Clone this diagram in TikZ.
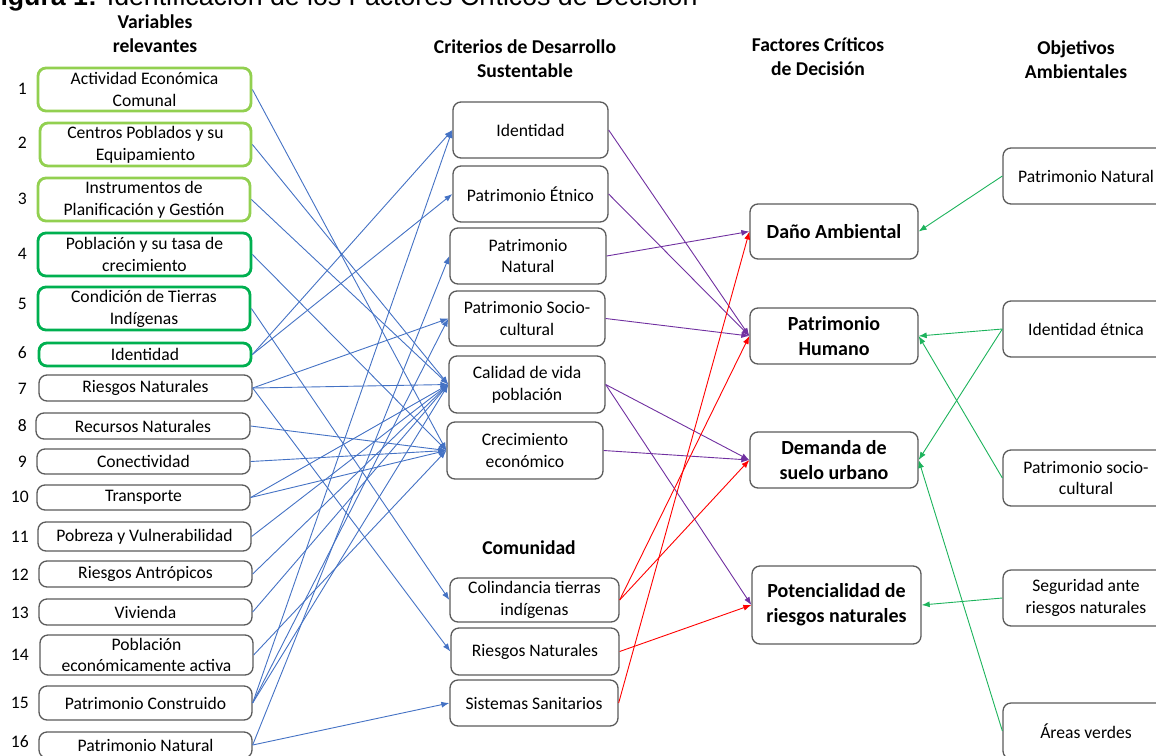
\documentclass[tikz,border=0pt]{standalone}
\usepackage{fontspec}
\setmainfont{Carlito}
\newfontfamily\titlefont{Liberation Sans}
\usetikzlibrary{arrows.meta}
\definecolor{boxgray}{HTML}{5A5A5A}
\definecolor{lgreen}{HTML}{92D050}
\definecolor{dgreen}{HTML}{00B050}
\definecolor{lblue}{HTML}{4472C4}
\definecolor{lpurple}{HTML}{7030A0}
\definecolor{lred}{HTML}{FF0000}
\definecolor{lgrn}{HTML}{1DB35C}
\tikzset{
  bx/.style={draw=boxgray, line width=1.3pt, rounded corners=8pt, align=center,
    inner sep=1pt, text=black, font=\fontsize{17.6}{21.8}\selectfont},
  lg/.style={bx, draw=lgreen, line width=2.8pt},
  dg/.style={bx, draw=dgreen, line width=2.8pt},
  fbx/.style={bx, font=\bfseries\fontsize{20}{25}\selectfont},
  hdr/.style={align=center, inner sep=0pt, font=\bfseries\fontsize{19.6}{24}\selectfont},
  num/.style={anchor=east, inner sep=0pt, font=\fontsize{17.6}{21}\selectfont},
  tip/.style={-{Latex[length=8pt,width=6pt]}},
  bl/.style={tip, draw=lblue, line width=0.9pt},
  pu/.style={tip, draw=lpurple, line width=0.9pt},
  rd/.style={tip, draw=lred, line width=0.9pt},
  gn/.style={tip, draw=lgrn, line width=0.9pt}
}
\begin{document}
\begin{tikzpicture}[x=1pt,y=-1pt]
\useasboundingbox (0,0) rectangle (1156,755);

% title (cut by the top edge, as in the reference)
\node[anchor=base west, inner sep=0pt, font=\titlefont\fontsize{26.7}{30}\selectfont] (title) at (-16,5.5)
  {\textbf{Figura 1:} Identificación de los Factores Críticos de Decisión};

% headers
\node[hdr] (h1) at (155,33.5) {Variables\\relevantes};
\node[hdr] (h2) at (525,59) {Criterios de Desarrollo\\Sustentable};
\node[hdr] (h3) at (818,56.5) {Factores Críticos\\de Decisión};
\node[hdr] (h4) at (1076,59.5) {Objetivos\\Ambientales};
\node[hdr] (h5) at (529,548) {Comunidad};

% numbers
\node[num] (n1) at (27,89) {1};
\node[num] (n2) at (27,143) {2};
\node[num] (n3) at (27,199) {3};
\node[num] (n4) at (27,254) {4};
\node[num] (n5) at (27,304) {5};
\node[num] (n6) at (27,353) {6};
\node[num] (n7) at (27,389) {7};
\node[num] (n8) at (27,426) {8};
\node[num] (n9) at (27,462) {9};
\node[num] (n10) at (29,497) {10};
\node[num] (n11) at (29,537) {11};
\node[num] (n12) at (29,575) {12};
\node[num] (n13) at (29,613) {13};
\node[num] (n14) at (29,655) {14};
\node[num] (n15) at (29,703) {15};
\node[num] (n16) at (29,742) {16};

% variables
\node[lg, minimum width=213pt, minimum height=43pt] (v1) at (144.5,89.5) {Actividad Económica\\Comunal};
\node[lg, minimum width=211pt, minimum height=43pt] (v2) at (145.5,144.5) {Centros Poblados y su\\Equipamiento};
\node[lg, minimum width=212pt, minimum height=43pt] (v3) at (144,199.5) {Instrumentos de\\Planificación y Gestión};
\node[dg, minimum width=213pt, minimum height=43pt] (v4) at (144.5,254.5) {Población y su tasa de\\crecimiento};
\node[dg, minimum width=212pt, minimum height=43pt] (v5) at (144,308.5) {Condición de Tierras\\Indígenas};
\node[dg, minimum width=212pt, minimum height=23pt] (v6) at (145,354.5) {Identidad};
\node[bx, minimum width=213pt, minimum height=26pt] (v7) at (145.5,388) {Riesgos Naturales};
\node[bx, minimum width=214pt, minimum height=26pt] (v8) at (143,426) {Recursos Naturales};
\node[bx, minimum width=213pt, minimum height=25pt] (v9) at (143.5,461.5) {Conectividad};
\node[bx, minimum width=213pt, minimum height=25pt] (v10) at (143.5,497.5) {Transporte};
\node[bx, minimum width=213pt, minimum height=29pt] (v11) at (144.5,536.5) {Pobreza y Vulnerabilidad};
\node[bx, minimum width=213pt, minimum height=26pt] (v12) at (145.5,574) {Riesgos Antrópicos};
\node[bx, minimum width=213pt, minimum height=26pt] (v13) at (145.5,612) {Vivienda};
\node[bx, minimum width=213pt, minimum height=40pt] (v14) at (146.5,655) {Población\\económicamente activa};
\node[bx, minimum width=213pt, minimum height=34pt] (v15) at (145.5,703) {Patrimonio Construido};
\node[bx, minimum width=213pt, minimum height=26pt] (v16) at (145.5,745) {Patrimonio Natural};

% criterios
\node[bx, minimum width=155pt, minimum height=56pt] (c1) at (530.5,130) {Identidad};
\node[bx, minimum width=155pt, minimum height=56pt] (c2) at (530.5,194) {Patrimonio Étnico};
\node[bx, minimum width=156pt, minimum height=56pt] (c3) at (528,256) {Patrimonio\\Natural};
\node[bx, minimum width=156pt, minimum height=55pt] (c4) at (527,318.5) {Patrimonio Socio-\\cultural};
\node[bx, minimum width=156pt, minimum height=57pt] (c5) at (527,384.5) {Calidad de vida\\población};
\node[bx, minimum width=156pt, minimum height=57pt] (c6) at (525,450.5) {Crecimiento\\económico};

% comunidad
\node[bx, minimum width=169pt, minimum height=44pt] (m1) at (534.5,600) {Colindancia tierras\\indígenas};
\node[bx, minimum width=168pt, minimum height=47pt] (m2) at (535,651.5) {Riesgos Naturales};
\node[bx, minimum width=168pt, minimum height=46pt] (m3) at (534,703) {Sistemas Sanitarios};

% factores
\node[fbx, minimum width=168pt, minimum height=55pt] (f1) at (834,231.5) {Daño Ambiental};
\node[fbx, minimum width=168pt, minimum height=56pt] (f2) at (834,336) {Patrimonio\\Humano};
\node[fbx, minimum width=168pt, minimum height=56pt] (f3) at (834,460) {Demanda de\\suelo urbano};
\node[fbx, minimum width=169pt, minimum height=78pt] (f4) at (836.5,605) {Potencialidad de\\riesgos naturales};

% objetivos
\node[bx, minimum width=166pt, minimum height=56pt] (o1) at (1086,176) {Patrimonio Natural};
\node[bx, minimum width=166pt, minimum height=56pt] (o2) at (1086,329) {Identidad étnica};
\node[bx, minimum width=166pt, minimum height=56pt] (o3) at (1086,478) {Patrimonio socio-\\cultural};
\node[bx, minimum width=166pt, minimum height=56pt] (o4) at (1086,598) {Seguridad ante\\riesgos naturales};
\node[bx, minimum width=166pt, minimum height=56pt] (o5) at (1086,731) {Áreas verdes};

% blue connectors
\draw[bl] (v1.east) -- (c6.west);
\draw[bl] (v2.east) -- (c5.west);
\draw[bl] (v3.east) -- (c5.west);
\draw[bl] (v4.east) -- (c6.west);
\draw[bl] (v5.east) -- (m1.west);
\draw[bl] (v6.east) -- (c1.west);
\draw[bl] (v6.east) -- (c2.west);
\draw[bl] (v7.east) -- (c4.west);
\draw[bl] (v7.east) -- (c5.west);
\draw[bl] (v7.east) -- (m2.west);
\draw[bl] (v8.east) -- (c6.west);
\draw[bl] (v9.east) -- (c6.west);
\draw[bl] (v10.east) -- (c5.west);
\draw[bl] (v10.east) -- (c6.west);
\draw[bl] (v11.east) -- (c5.west);
\draw[bl] (v12.east) -- (c5.west);
\draw[bl] (v13.east) -- (c5.west);
\draw[bl] (v14.east) -- (c6.west);
\draw[bl] (v15.east) -- (c1.west);
\draw[bl] (v15.east) -- (c4.west);
\draw[bl] (v15.east) -- (c5.west);
\draw[bl] (v16.east) -- (c3.west);
\draw[bl] (v16.east) -- (m3.west);

% purple connectors
\draw[pu] (c1.east) -- (f2.west);
\draw[pu] (c2.east) -- (f2.west);
\draw[pu] (c3.east) -- (f1.west);
\draw[pu] (c4.east) -- (f2.west);
\draw[pu] (c5.east) -- (f3.west);
\draw[pu] (c5.east) -- (f4.west);
\draw[pu] (c6.east) -- (f3.west);

% red connectors
\draw[rd] (m1.east) -- (f2.west);
\draw[rd] (m1.east) -- (f3.west);
\draw[rd] (m2.east) -- (f4.west);
\draw[rd] (m3.east) -- (f1.west);

% green connectors
\draw[gn] (o1.west) -- (f1.east);
\draw[gn] (o2.west) -- (f2.east);
\draw[gn] (o2.west) -- (f3.east);
\draw[gn] (o3.west) -- (f2.east);
\draw[gn] (o4.west) -- (f4.east);
\draw[gn] (o5.west) -- (f3.east);
\end{tikzpicture}
\end{document}
